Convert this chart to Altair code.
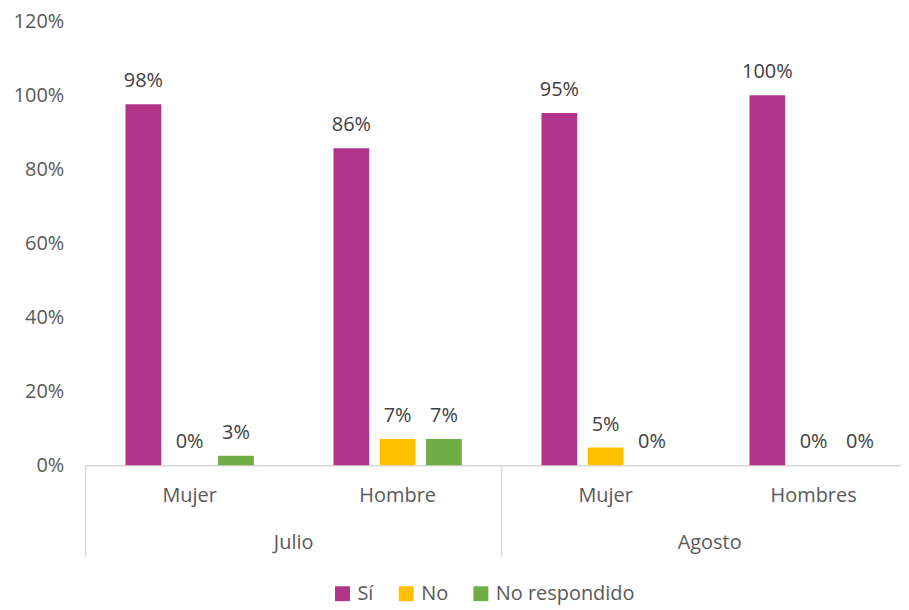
import altair as alt
import pandas as pd

# ---- data ----
months = ["Julio", "Julio", "Agosto", "Agosto"]
groups = ["Mujer", "Hombre", "Mujer", "Hombres"]
series = ["Sí", "No", "No respondido"]
si = [0.976, 0.857, 0.952, 1.0]
no = [0.0, 0.071, 0.048, 0.0]
no_resp = [0.026, 0.071, 0.0, 0.0]
colors = ["#B0338A", "#FFC000", "#70AD47"]
y_ticks = [0, 0.2, 0.4, 0.6, 0.8, 1.0, 1.2]

# ---- layout constants ----
BAR_STEP = 0.2225   # distance between bar centres within a category (category = 1 unit)
BAR_HALF = 0.086    # half a bar width
W, H = 819, 446
FONT = "Open Sans"
AXIS_GREY = "#D9D9D9"
TXT = "#595959"

rows = []
for i, (m, g) in enumerate(zip(months, groups)):
    for s, (name, vals) in enumerate(zip(series, [si, no, no_resp])):
        c = i + 0.5 + (s - 1) * BAR_STEP
        rows.append({"idx": i, "month": m, "group": g, "serie": name,
                     "value": vals[i], "x0": c - BAR_HALF, "x1": c + BAR_HALF, "xc": c})
df = pd.DataFrame(rows)

cats = pd.DataFrame({"group": groups, "xc": [i + 0.5 for i in range(len(groups))]})
mon = pd.DataFrame({"month": months, "idx": range(len(months))})
mon = mon.groupby("month", sort=False)["idx"].agg(["min", "max"]).reset_index()
mon["xc"] = (mon["min"] + mon["max"] + 1) / 2
mon["xstart"] = mon["min"]

xscale = alt.Scale(domain=[0, 3.92], nice=False, zero=False)
yscale = alt.Scale(domain=[0, 1.2], nice=False)
x_axis = alt.Axis(labels=False, ticks=False, grid=False, title=None,
                  domainColor=AXIS_GREY, domainWidth=1.5, orient="bottom")
y_axis = alt.Axis(format=".0%", values=y_ticks, grid=False, domain=False,
                  ticks=False, labelPadding=22, labelFontSize=20,
                  labelColor=TXT, labelFont=FONT, title=None, orient="left")


def X(field):
    return alt.X(field, scale=xscale, axis=x_axis, title=None)


bars = alt.Chart(df).mark_bar().encode(
    x=X("x0:Q"),
    x2="x1",
    y=alt.Y("value:Q", scale=yscale, axis=y_axis, title=None),
    y2=alt.datum(0),
    color=alt.Color("serie:N", scale=alt.Scale(domain=series, range=colors),
                    sort=series,
                    legend=alt.Legend(orient="none", legendX=248, legendY=565,
                                      direction="horizontal", title=None,
                                      symbolType="square", symbolSize=225,
                                      symbolStrokeWidth=0, labelFontSize=20,
                                      labelFont=FONT, labelColor=TXT,
                                      columnPadding=22, labelOffset=5)),
)

labels = alt.Chart(df).mark_text(baseline="alphabetic", dy=-17, fontSize=20,
                                 font=FONT, color="#404040").encode(
    x=X("xc:Q"),
    y=alt.Y("value:Q", scale=yscale, axis=y_axis, title=None),
    text=alt.Text("value:Q", format=".0%"),
)

cat_labels = alt.Chart(cats).mark_text(baseline="middle", fontSize=20, font=FONT,
                                       color=TXT).encode(
    x=X("xc:Q"),
    y=alt.value(H + 31),
    text="group:N",
)

month_labels = alt.Chart(mon).mark_text(baseline="middle", fontSize=20, font=FONT,
                                        color=TXT).encode(
    x=X("xc:Q"),
    y=alt.value(H + 78),
    text="month:N",
)

dividers = alt.Chart(mon).mark_rule(color=AXIS_GREY, strokeWidth=1.5).encode(
    x=X("xstart:Q"),
    y=alt.value(H),
    y2=alt.value(H + 92),
)

chart = alt.layer(bars, labels, dividers, cat_labels, month_labels).properties(
    width=W, height=H,
    padding={"left": 5, "top": 2, "right": 0, "bottom": 0},
).configure(font=FONT).configure_view(stroke=None)

chart.save("out.html", embed_options={"renderer": "svg", "actions": False})
